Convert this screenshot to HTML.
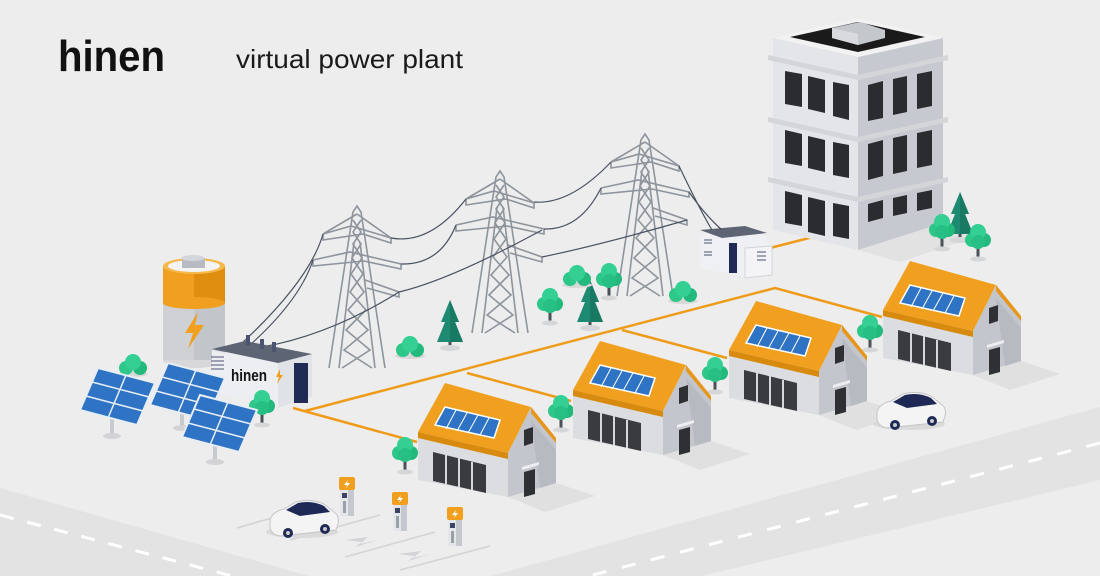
<!DOCTYPE html>
<html><head><meta charset="utf-8"><style>
html,body{margin:0;padding:0;background:#ededed;}
svg{display:block;font-family:"Liberation Sans",sans-serif;}
</style></head><body>
<svg width="1100" height="576" viewBox="0 0 1100 576" xmlns="http://www.w3.org/2000/svg">
<defs>
<g id="house">
 <polygon points="508,497 556,483 595,496 545,512" fill="#e0e0e0"/>
 <polygon points="418,432 508,453 508,497 418,480" fill="#dcdde0"/>
 <polygon points="508,453 531,407 556,438 556,483 508,497" fill="#c3c6cc"/>
 <polygon points="531,420 556,450 556,483 540,488" fill="#b7bac1"/>
 <polygon points="418,432 445,383 531,407 508,453" fill="#f0a01e"/>
 <polygon points="418,432 508,453 508,459 418,438" fill="#d88a0e"/>
 <polygon points="531,407 556,438 556,443 531,413" fill="#e8961a"/>
 <polygon points="435,425 445,407 500,420 494,438" fill="#2f74c4" stroke="#fff" stroke-width="1.5"/>
 <g stroke="#fff" stroke-width="1"><line x1="456" y1="410" x2="446" y2="429"/><line x1="467" y1="413" x2="457" y2="431"/><line x1="478" y1="415" x2="468" y2="433"/><line x1="489" y1="418" x2="480" y2="435"/></g>
 <polygon points="433,452 486,465 486,493 433,481" fill="#3a3b3e"/>
 <g stroke="#d6d7da" stroke-width="2"><line x1="446" y1="455" x2="446" y2="484"/><line x1="459" y1="458" x2="459" y2="487"/><line x1="472" y1="462" x2="472" y2="490"/></g>
 <polygon points="524,430 533,427 533,443 524,446" fill="#2f3033"/>
 <polygon points="522,467 539,462 539,465 522,470" fill="#eceef0"/>
 <polygon points="524,472 535,469 535,494 524,497" fill="#2f3033"/>
</g>
<g id="tree">
 <rect x="-1.5" y="0" width="3" height="14" fill="#4b5158"/>
 <ellipse cx="0" cy="15" rx="8" ry="2.5" fill="#d5d6d8"/>
 <circle cx="-6" cy="-4" r="7" fill="#2cc789"/>
 <circle cx="6" cy="-4" r="7" fill="#23b87c"/>
 <circle cx="0" cy="-12" r="8" fill="#34d093"/>
 <circle cx="0" cy="-2" r="7" fill="#27bf83"/>
</g>
<g id="pine">
 <rect x="-1.5" y="0" width="3" height="8" fill="#4b5158"/>
 <ellipse cx="0" cy="8" rx="10" ry="3" fill="#d5d6d8"/>
 <polygon points="0,-40 -9,-18 -5,-18 -13,2 13,2 5,-18 9,-18" fill="#1e8a72"/>
 <polygon points="0,-40 9,-18 5,-18 13,2 0,2" fill="#197a64"/>
</g>
<g id="bush">
 <ellipse cx="0" cy="6" rx="15" ry="3" fill="#d8d8d8"/>
 <circle cx="-7" cy="0" r="7" fill="#2cc789"/>
 <circle cx="7" cy="0" r="7" fill="#23b87c"/>
 <circle cx="0" cy="-6" r="8" fill="#34d093"/>
</g>
<g id="tower" fill="none" stroke="#8e949c" stroke-width="1.6">
 <polyline points="-28,156 -4,0 0,-6 4,0 28,156"/>
 <polyline points="-18,156 -3,30"/><polyline points="18,156 3,30"/>
 <polyline points="-4,8 4,20 -4,32 5,46 -6,62 7,80 -9,98 11,118 -13,138 15,156"/>
 <polyline points="4,8 -4,20 4,32 -5,46 6,62 -7,80 9,98 -11,118 13,138 -15,156"/>
 <polyline points="-34,22 -6,14 34,26 34,31 6,22 -34,28 -34,22"/>
 <polyline points="-44,48 -7,40 44,52 44,57 7,49 -44,54 -44,48"/>
 <polyline points="8,68 42,80 42,85 10,76"/>
 <line x1="-34" y1="22" x2="0" y2="2"/><line x1="34" y1="26" x2="0" y2="2"/>
</g>
<g id="panel">
 <polygon points="0,0 57,15 39,57 -18,42" fill="#2f74c4" stroke="#e8eef5" stroke-width="2"/>
 <g stroke="#e8eef5" stroke-width="1.5"><line x1="-6" y1="14" x2="51" y2="29"/><line x1="-12" y1="28" x2="45" y2="43"/><line x1="28" y1="7" x2="10" y2="50"/></g>
</g>
<g id="charger">
 <rect x="-8" y="0" width="16" height="13" rx="2" fill="#f0a01e"/>
 <polygon points="1,3 -3,8 0,8 -1,11 3,6 0,6" fill="#fff"/>
 <rect x="-7" y="13" width="14" height="26" fill="#e4e6ea"/>
 <rect x="1" y="13" width="6" height="26" fill="#c5c8ce"/>
 <rect x="-5" y="16" width="5" height="5" fill="#3b4460"/>
 <rect x="-4" y="24" width="3" height="12" fill="#9aa0a8"/>
</g>
<g id="car">
 <ellipse cx="32" cy="32" rx="36" ry="6" fill="#dadada"/>
 <path d="M0,20 Q2,12 14,9 L26,2 Q40,-2 54,4 L64,12 Q70,16 68,24 L66,30 L10,36 Q0,34 0,26 Z" fill="#f4f4f4" stroke="#c4c6ca" stroke-width="1"/>
 <path d="M16,10 L28,3 Q42,0 54,6 L60,12 L30,16 Z" fill="#1e2a55"/>
 <circle cx="18" cy="33" r="5" fill="#1e2a55"/><circle cx="18" cy="33" r="2" fill="#ccc"/>
 <circle cx="55" cy="29" r="5" fill="#1e2a55"/><circle cx="55" cy="29" r="2" fill="#ccc"/>
</g>
</defs>

<rect width="1100" height="576" fill="#ededed"/>
<!-- roads -->
<polygon points="0,488 309,576 0,576" fill="#e3e3e3"/>
<polygon points="1100,407 1100,480 702,576 491,576" fill="#e3e3e3"/>
<line x1="0" y1="515" x2="232" y2="576" stroke="#fff" stroke-width="3" stroke-dasharray="14 14"/>
<line x1="1100" y1="443" x2="589" y2="576" stroke="#fff" stroke-width="3" stroke-dasharray="14 16"/>

<!-- logo -->
<text x="58" y="71" font-size="44" font-weight="bold" fill="#111" textLength="107" lengthAdjust="spacingAndGlyphs">hinen</text>
<text x="236" y="68" font-size="26" fill="#1a1a1a" textLength="227" lengthAdjust="spacingAndGlyphs">virtual power plant</text>

<!-- orange lines -->
<g stroke="#ee9b1a" stroke-width="2.5" fill="none">
 <polyline points="293,408 417,442"/>
 <polyline points="305,411 775,288 882,317"/>
 <line x1="467" y1="373" x2="571" y2="401"/>
 <line x1="622" y1="330" x2="727" y2="358"/>
 <line x1="770" y1="248" x2="813" y2="237"/>
</g>

<!-- building -->
<polygon points="858,250 943,223 990,232 900,262" fill="#e2e2e2"/>
<polygon points="773,38 858,57 858,250 773,230" fill="#e4e5e8"/>
<polygon points="858,57 943,38 943,223 858,250" fill="#c6c9cf"/>
<polygon points="773,38 858,18 943,38 858,57" fill="#f2f2f2"/>
<polygon points="790,37 858,22 925,37 858,52" fill="#1a1a1a"/>
<polygon points="832,28 860,22 885,30 885,38 858,45 832,38" fill="#c4c7cc"/>
<polygon points="832,28 858,34 858,45 832,38" fill="#d8dadd"/>
<g fill="#d3d5d9">
 <polygon points="768,55 858,75 858,80 768,60"/><polygon points="858,75 948,55 948,60 858,80"/>
 <polygon points="768,117 858,137 858,142 768,122"/><polygon points="858,137 948,117 948,122 858,142"/>
 <polygon points="768,177 858,197 858,202 768,182"/><polygon points="858,197 948,177 948,182 858,202"/>
</g>
<g fill="#2b2c2f">
 <polygon points="785,71 802,74 802,107 785,104"/><polygon points="808,76 825,80 825,113 808,109"/><polygon points="833,82 849,85 849,120 833,116"/>
 <polygon points="785,130 802,134 802,166 785,163"/><polygon points="808,136 825,140 825,172 808,168"/><polygon points="833,142 849,145 849,178 833,175"/>
 <polygon points="785,191 802,195 802,226 785,223"/><polygon points="808,197 825,201 825,236 808,232"/><polygon points="833,203 849,206 849,239 833,236"/>
 <polygon points="868,85 883,81 883,118 868,121"/><polygon points="893,79 907,76 907,112 893,115"/><polygon points="917,74 932,71 932,106 917,109"/>
 <polygon points="868,144 883,140 883,176 868,180"/><polygon points="893,138 907,135 907,171 893,174"/><polygon points="917,133 932,130 932,165 917,168"/>
 <polygon points="868,204 883,200 883,218 868,222"/><polygon points="893,198 907,195 907,213 893,216"/><polygon points="917,193 932,190 932,208 917,211"/>
</g>

<!-- transformer 2 -->
<polygon points="700,235 745,228 767,236 767,272 745,277 700,268" fill="#eef0f3"/>
<polygon points="700,230 745,226 767,233 722,238" fill="#5d6473"/>
<rect x="729" y="243" width="8" height="30" fill="#1f2a55"/>
<polygon points="745,248 772,246 772,275 745,278" fill="#f4f4f6" stroke="#d0d3d8"/>
<g stroke="#4a5372" stroke-width="1"><line x1="704" y1="240" x2="712" y2="240"/><line x1="704" y1="243" x2="712" y2="243"/><line x1="704" y1="252" x2="712" y2="252"/><line x1="704" y1="255" x2="712" y2="255"/><line x1="757" y1="252" x2="766" y2="252"/><line x1="757" y1="256" x2="766" y2="256"/><line x1="757" y1="260" x2="766" y2="260"/></g>

<!-- towers -->
<use href="#tower" x="357" y="212"/>
<use href="#tower" x="500" y="177"/>
<use href="#tower" x="645" y="140"/>
<!-- wires -->
<g stroke="#4a5262" stroke-width="1.2" fill="none">
 <path d="M391,238 Q430,245 466,199"/><path d="M401,264 Q440,265 456,225"/><path d="M399,292 Q450,280 542,230"/>
 <path d="M534,202 Q570,205 611,162"/><path d="M544,229 Q580,230 601,188"/><path d="M542,257 Q600,245 687,220"/>
 <path d="M679,166 Q700,210 712,230"/><path d="M689,192 Q705,215 722,230"/>
 <path d="M323,234 Q310,280 240,345"/><path d="M313,260 Q300,300 250,345"/><path d="M399,292 Q330,335 262,347"/>
</g>

<!-- battery -->
<ellipse cx="194" cy="360" rx="31" ry="8" fill="#d8d8da"/>
<rect x="163" y="266" width="62" height="94" fill="#cfd1d5"/>
<rect x="194" y="266" width="31" height="94" fill="#c2c5ca"/>
<rect x="163" y="266" width="62" height="37" fill="#f0a01e"/>
<rect x="194" y="266" width="31" height="37" fill="#e08e10"/>
<ellipse cx="194" cy="303" rx="31" ry="6" fill="#f0a01e"/>
<ellipse cx="194" cy="266" rx="31" ry="8" fill="#f5b84a"/>
<ellipse cx="194" cy="266" rx="26" ry="6" fill="#f4f4f4"/>
<rect x="182" y="258" width="23" height="10" fill="#b8bcc2"/>
<ellipse cx="193" cy="258" rx="11.5" ry="3" fill="#d3d6da"/>
<polygon points="198,312 185,333 193,333 188,349 204,325 195,325" fill="#f0a01e"/>

<!-- transformer 1 -->
<use href="#bush" x="133" y="368"/>
<polygon points="212,350 278,363 312,354 312,396 278,408 212,392" fill="#eceef1"/>
<polygon points="278,363 312,354 312,396 278,408" fill="#dfe2e6"/>
<polygon points="212,349 245,341 312,354 278,363" fill="#5d6473"/>
<rect x="294" y="363" width="14" height="40" fill="#1f2a55"/>
<g stroke="#4a5372" stroke-width="1"><line x1="211" y1="357" x2="224" y2="357"/><line x1="211" y1="361" x2="224" y2="361"/><line x1="211" y1="365" x2="224" y2="365"/><line x1="211" y1="369" x2="224" y2="369"/></g>
<text x="231" y="381" font-size="17" font-weight="bold" fill="#111" textLength="36" lengthAdjust="spacingAndGlyphs">hinen</text>
<polygon points="280,369 276,377 279,377 277,384 283,375 280,375" fill="#f0a01e"/>
<g fill="#4a5372"><rect x="246" y="335" width="4" height="10"/><rect x="260" y="339" width="4" height="10"/><rect x="272" y="342" width="4" height="10"/></g>

<!-- solar panels -->
<g fill="#c7cacf"><rect x="110" y="418" width="4" height="18"/><rect x="180" y="410" width="4" height="18"/><rect x="213" y="445" width="4" height="18"/></g>
<ellipse cx="112" cy="436" rx="9" ry="3" fill="#d3d3d5"/><ellipse cx="182" cy="428" rx="9" ry="3" fill="#d3d3d5"/><ellipse cx="215" cy="462" rx="9" ry="3" fill="#d3d3d5"/>
<use href="#panel" x="98" y="368"/>
<use href="#panel" x="168" y="363"/>
<use href="#tree" x="262" y="410"/>
<use href="#panel" x="200" y="395"/>

<!-- trees mid -->
<use href="#bush" x="410" y="350"/>
<use href="#pine" x="450" y="340"/>
<use href="#tree" x="550" y="308"/>
<use href="#pine" x="590" y="320"/>
<use href="#bush" x="577" y="279"/>
<use href="#tree" x="609" y="283"/>
<use href="#bush" x="683" y="295"/>
<use href="#pine" x="960" y="232"/>
<use href="#tree" x="942" y="234"/>
<use href="#tree" x="978" y="244"/>

<!-- houses -->
<use href="#tree" x="870" y="335"/>
<use href="#house" x="465" y="-122"/>
<use href="#tree" x="715" y="377"/>
<use href="#house" x="311" y="-82"/>
<use href="#car" x="877" y="392"/>
<use href="#tree" x="561" y="415"/>
<use href="#house" x="155" y="-42"/>
<use href="#tree" x="405" y="457"/>
<use href="#house"/>

<!-- parking -->
<g stroke="#d2d3d6" stroke-width="1.5"><line x1="237" y1="528" x2="275" y2="517"/><line x1="290" y1="540" x2="380" y2="515"/><line x1="345" y1="557" x2="435" y2="532"/><line x1="400" y1="570" x2="490" y2="546"/></g>
<polygon points="345,540 368,537 360,544 378,540 355,547 362,542" fill="#d2d3d6"/>
<polygon points="398,554 421,551 413,558 431,554 408,561 415,556" fill="#d2d3d6"/>
<use href="#charger" x="347" y="477"/>
<use href="#charger" x="400" y="492"/>
<use href="#charger" x="455" y="507"/>
<use href="#car" x="270" y="500"/>
</svg>
</body></html>
